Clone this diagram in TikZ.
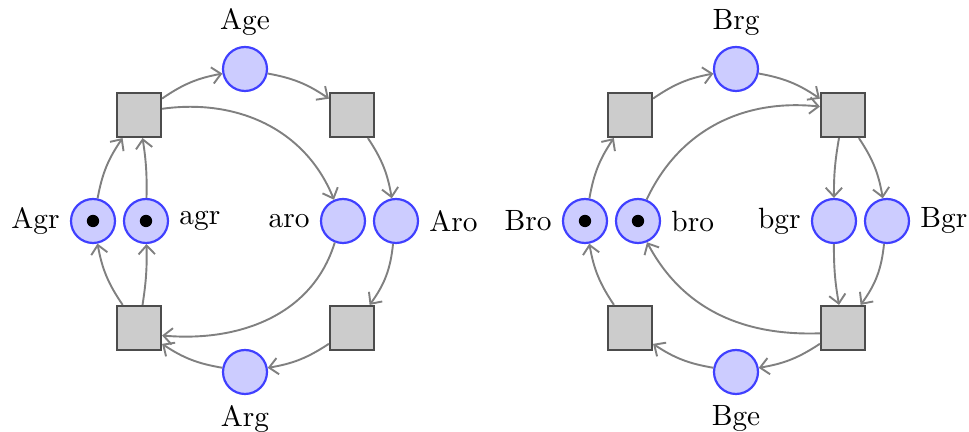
\documentclass[tikz,border=0pt]{standalone}
\usetikzlibrary{arrows.meta}
\begin{document}
\begin{tikzpicture}[x=0.341pt,y=0.341pt,
  place/.style={circle,draw=blue!75,fill=blue!20,line width=0.75pt,minimum size=15pt,inner sep=0pt},
  transition/.style={rectangle,draw=black!70,fill=black!20,line width=0.75pt,minimum size=15pt,inner sep=0pt},
  token/.style={circle,fill=black,minimum size=4.2pt,inner sep=0pt},
  arc/.style={draw=black!50,line width=0.65pt,-{Straight Barb[length=3pt,width=5.6pt]}}]
\useasboundingbox (0,0) rectangle (969,-432);

% ---------- net A ----------
\node[transition] (atl) at (139,-115) {};
\node[transition] (atr) at (352,-115) {};
\node[transition] (abl) at (139,-328) {};
\node[transition] (abr) at (352,-328) {};
\node[place,label=above:Age] (Age) at (245,-69) {};
\node[place,label=below:Arg] (Arg) at (245,-372) {};
\node[place,label=left:Agr] (Agr) at (93,-221) {};
\node[place,label=right:agr] (agr) at (146,-221) {};
\node[place,label=left:aro] (aro) at (343,-221) {};
\node[place,label=right:Aro] (Aro) at (396,-221) {};
\node[token] (tAgr) at (Agr) {};
\node[token] (tagr) at (agr) {};

\draw[arc] (atl) to[bend left=12] (Age);
\draw[arc] (Age) to[bend left=12] (atr);
\draw[arc] (atr) to[bend left=12] (Aro);
\draw[arc] (Aro) to[bend left=15] (abr);
\draw[arc] (abr) to[bend left=12] (Arg);
\draw[arc] (Arg) to[bend left=12] (abl);
\draw[arc] (abl) to[bend left=12] (Agr);
\draw[arc] (abl) to[bend right=5] (agr);
\draw[arc] (Agr) to[bend left=12] (atl);
\draw[arc] (agr) to[bend right=5] (atl);
\draw[arc] (atl.15) to[out=8,in=112] (aro.113);
\draw[arc] (aro.-111) to[out=-107,in=-5] (abl.-18);

% ---------- net B ----------
\node[transition] (btl) at (630,-115) {};
\node[transition] (btr) at (843,-115) {};
\node[transition] (bbl) at (630,-328) {};
\node[transition] (bbr) at (843,-328) {};
\node[place,label=above:Brg] (Brg) at (736,-69) {};
\node[place,label=below:Bge] (Bge) at (736,-372) {};
\node[place,label=left:Bro] (Bro) at (585,-221) {};
\node[place,label=right:bro] (bro) at (638,-221) {};
\node[place,label=left:bgr] (bgr) at (834,-221) {};
\node[place,label=right:Bgr] (Bgr) at (887,-221) {};
\node[token] (tBro) at (Bro) {};
\node[token] (tbro) at (bro) {};

\draw[arc] (btl) to[bend left=12] (Brg);
\draw[arc] (Brg) to[bend left=12] (btr);
\draw[arc] (btr) to[bend right=5] (bgr);
\draw[arc] (btr) to[bend left=12] (Bgr);
\draw[arc] (bgr) to[bend right=5] (bbr);
\draw[arc] (Bgr) to[bend left=15] (bbr);
\draw[arc] (bbr) to[bend left=12] (Bge);
\draw[arc] (Bge) to[bend left=12] (bbl);
\draw[arc] (bbl) to[bend left=12] (Bro);
\draw[arc] (Bro) to[bend left=12] (btl);
\draw[arc] (bro.68) to[out=65,in=174] (btr.160);
\draw[arc] (bbr.193) to[out=182,in=-62] (bro.-67);
\end{tikzpicture}
\end{document}
